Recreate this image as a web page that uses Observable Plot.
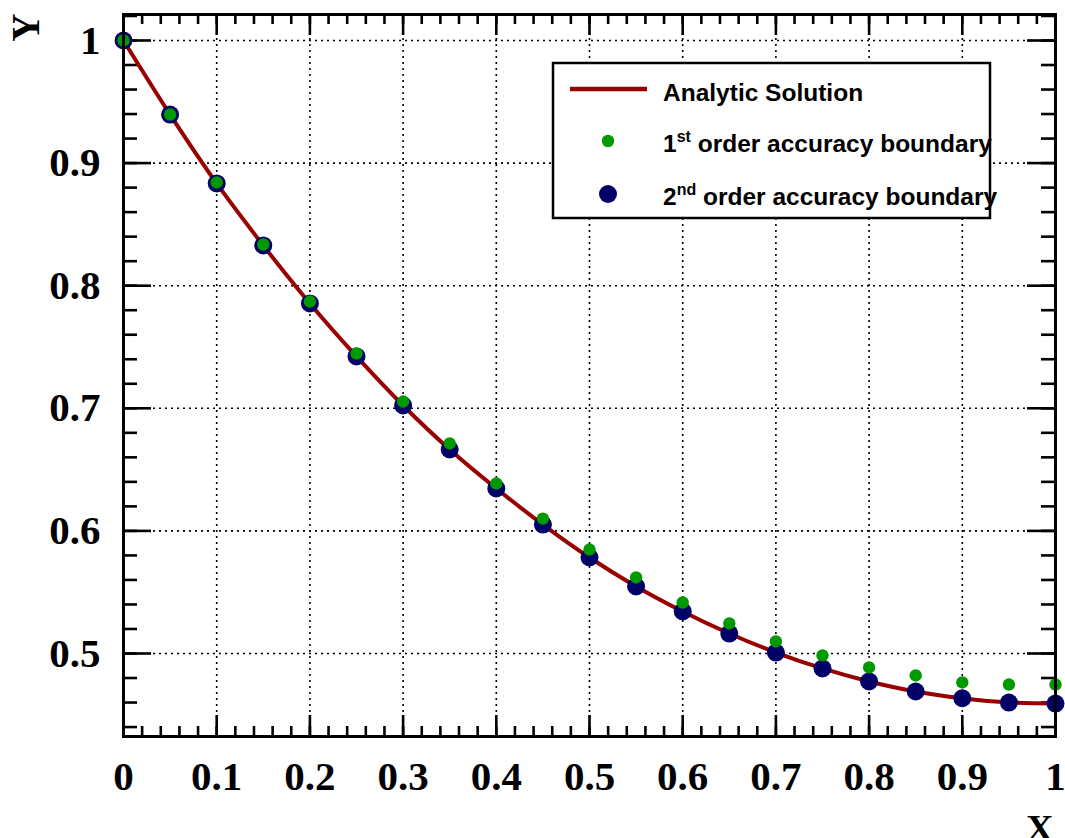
<!DOCTYPE html>
<html><head><meta charset="utf-8">
<script src="https://cdn.jsdelivr.net/npm/d3@7"></script>
<script src="https://cdn.jsdelivr.net/npm/@observablehq/plot@0.6"></script>
<style>
body{margin:0;background:#fff}
#wrap{position:relative;width:1065px;height:838px;overflow:hidden}
#wrap svg{position:absolute;left:0;top:0}
</style>
</head><body><div id="wrap"></div>
<script>
// ---- data ----
const xs       = [0, 0.05, 0.1, 0.15, 0.2, 0.25, 0.3, 0.35, 0.4, 0.45, 0.5, 0.55, 0.6, 0.65, 0.7, 0.75, 0.8, 0.85, 0.9, 0.95, 1.0];
const analytic = [1.0, 0.9396, 0.8834, 0.8328, 0.7855, 0.7423, 0.7023, 0.6664, 0.6346, 0.6052, 0.5783, 0.5547, 0.5343, 0.5163, 0.5008, 0.4878, 0.4772, 0.4690, 0.4635, 0.4600, 0.4592];
const second   = [1.0, 0.9396, 0.8834, 0.8328, 0.7855, 0.7423, 0.7023, 0.6664, 0.6346, 0.6052, 0.5783, 0.5547, 0.5343, 0.5163, 0.5008, 0.4878, 0.4772, 0.4690, 0.4635, 0.4600, 0.4592];
const first    = [1.0, 0.9396, 0.8842, 0.8336, 0.7871, 0.7447, 0.7055, 0.6713, 0.6387, 0.6100, 0.5848, 0.5620, 0.5416, 0.5245, 0.5098, 0.4984, 0.4886, 0.4821, 0.4764, 0.4747, 0.4747];
const xMajor = [0, 0.1, 0.2, 0.3, 0.4, 0.5, 0.6, 0.7, 0.8, 0.9, 1];
const yMajor = [0.5, 0.6, 0.7, 0.8, 0.9, 1];
const xMinor = d3.range(0, 1.0001, 0.02);
const yMinor = d3.range(0.44, 1.0201, 0.02);
const seriesNames = ["Analytic Solution", "order accuracy boundary", "order accuracy boundary"];

const lineData = xs.map((x, i) => ({x, y: analytic[i]}));
const firstData = xs.map((x, i) => ({x, y: first[i]}));
const secondData = xs.map((x, i) => ({x, y: second[i]}));

const W = 1065, H = 838, mL = 123, mR = 10, mT = 14, mB = 102;
const pw = W - mL - mR, ph = H - mT - mB;
const RED = "#990000", GREEN = "#009900", NAVY = "#000066";
const serif = "'Liberation Serif','Times New Roman',serif";
const sans = "'Liberation Sans',Arial,Helvetica,sans-serif";

const chart = Plot.plot({
  width: W, height: H,
  marginLeft: mL, marginRight: mR, marginTop: mT, marginBottom: mB,
  x: {domain: [0, 1], axis: null},
  y: {domain: [0.4323, 1.0212], axis: null},
  marks: [
    // dotted grid
    Plot.ruleX(xMajor, {x: d => d, stroke: "#000", strokeWidth: 1.6, strokeDasharray: "2,4"}),
    Plot.ruleY(yMajor, {y: d => d, stroke: "#000", strokeWidth: 1.6, strokeDasharray: "2,4"}),
    // bottom & top ticks
    Plot.tickX(xMinor, {x: d => d, insetTop: ph - 10, strokeWidth: 2.6}),
    Plot.tickX(xMinor, {x: d => d, insetBottom: ph - 10, strokeWidth: 2.6}),
    Plot.tickX(xMajor, {x: d => d, insetTop: ph - 21, strokeWidth: 2.6}),
    Plot.tickX(xMajor, {x: d => d, insetBottom: ph - 21, strokeWidth: 2.6}),
    // left & right ticks
    Plot.tickY(yMinor, {y: d => d, insetRight: pw - 14, strokeWidth: 2.6}),
    Plot.tickY(yMinor, {y: d => d, insetLeft: pw - 14, strokeWidth: 2.6}),
    Plot.tickY(yMajor, {y: d => d, insetRight: pw - 28, strokeWidth: 2.6}),
    Plot.tickY(yMajor, {y: d => d, insetLeft: pw - 28, strokeWidth: 2.6}),
    // data
    Plot.line(lineData, {x: "x", y: "y", stroke: RED, strokeWidth: 4, curve: "catmull-rom"}),
    Plot.dot(secondData, {x: "x", y: "y", r: 9, fill: NAVY, stroke: "none"}),
    Plot.dot(firstData, {x: "x", y: "y", r: 6.2, fill: GREEN, stroke: "none"}),
    Plot.frame({stroke: "#000", strokeWidth: 3}),
    // tick labels
    Plot.text(xMajor, {x: d => d, frameAnchor: "bottom", lineAnchor: "top", dy: 24, text: d => String(d),
      fontSize: 41, fontFamily: serif, fontWeight: "bold", fill: "#000"}),
    Plot.text(yMajor, {y: d => d, frameAnchor: "left", textAnchor: "end", dx: -23, text: d => String(d),
      fontSize: 41, fontFamily: serif, fontWeight: "bold", fill: "#000"}),
    // axis titles
    Plot.text(["X"], {frameAnchor: "bottom-right", textAnchor: "end", lineAnchor: "top", dy: 78, dx: -2, text: d => d,
      fontSize: 38, fontFamily: serif, fontWeight: "bold", fill: "#000"}),
    Plot.text(["Y"], {frameAnchor: "top-left", textAnchor: "end", rotate: -90, dx: -112, dy: -1, text: d => d,
      fontSize: 39, fontFamily: serif, fontWeight: "bold", fill: "#000"})
  ]
});
const wrap = document.getElementById("wrap");
wrap.appendChild(chart);

// legend overlay (inside plot area)
const lg = d3.select(wrap).append("svg").attr("width", W).attr("height", H).style("pointer-events", "none");
lg.append("rect").attr("x", 553).attr("y", 63).attr("width", 437).attr("height", 155)
  .attr("fill", "#fff").attr("stroke", "#000").attr("stroke-width", 2.5);
lg.append("line").attr("x1", 570).attr("x2", 647).attr("y1", 89).attr("y2", 89)
  .attr("stroke", RED).attr("stroke-width", 4.5);
lg.append("circle").attr("cx", 608).attr("cy", 141).attr("r", 6.2).attr("fill", GREEN);
lg.append("circle").attr("cx", 608).attr("cy", 194).attr("r", 9).attr("fill", NAVY);
const tstyle = s => s.attr("font-family", sans).attr("font-weight", "bold").attr("font-size", 24.5).attr("fill", "#000");
lg.append("text").attr("x", 663).attr("y", 101).text(seriesNames[0]).call(tstyle);
const t2 = lg.append("text").attr("x", 663).attr("y", 152).call(tstyle);
t2.append("tspan").text("1");
t2.append("tspan").attr("dy", -10).attr("font-size", 16).text("st");
t2.append("tspan").attr("dy", 10).text(" " + seriesNames[1]);
const t3 = lg.append("text").attr("x", 663).attr("y", 205).call(tstyle);
t3.append("tspan").text("2");
t3.append("tspan").attr("dy", -10).attr("font-size", 16).text("nd");
t3.append("tspan").attr("dy", 10).text(" " + seriesNames[2]);
</script>
</body></html>
